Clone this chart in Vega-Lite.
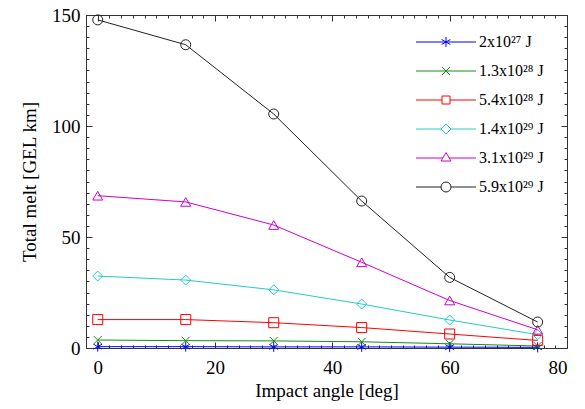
{
  "$schema": "https://vega.github.io/schema/vega-lite/v6.json",
  "width": 481,
  "height": 333,
  "autosize": {"type": "none"},
  "padding": {"left": 86, "top": 15, "right": 18, "bottom": 61},
  "background": "white",
  "config": {
    "view": {"stroke": "#333333", "strokeWidth": 1},
    "font": "Liberation Serif",
    "axis": {"labelFont": "Liberation Serif", "titleFont": "Liberation Serif", "labelColor": "black", "titleColor": "black", "titleFontWeight": "normal", "grid": false, "domain": false, "tickColor": "#333333"},
    "legend": {"labelFont": "Liberation Serif"}
  },
  "data": {
    "values": [
      {"angle": 0, "melt": 0.6, "series": "2x10²⁷ J"},
      {"angle": 15, "melt": 0.6, "series": "2x10²⁷ J"},
      {"angle": 30, "melt": 0.5, "series": "2x10²⁷ J"},
      {"angle": 45, "melt": 0.5, "series": "2x10²⁷ J"},
      {"angle": 60, "melt": 0.4, "series": "2x10²⁷ J"},
      {"angle": 75, "melt": 0.3, "series": "2x10²⁷ J"},
      {"angle": 0, "melt": 3.6, "series": "1.3x10²⁸ J"},
      {"angle": 15, "melt": 3.3, "series": "1.3x10²⁸ J"},
      {"angle": 30, "melt": 3.2, "series": "1.3x10²⁸ J"},
      {"angle": 45, "melt": 2.8, "series": "1.3x10²⁸ J"},
      {"angle": 60, "melt": 1.9, "series": "1.3x10²⁸ J"},
      {"angle": 75, "melt": 0.9, "series": "1.3x10²⁸ J"},
      {"angle": 0, "melt": 12.8, "series": "5.4x10²⁸ J"},
      {"angle": 15, "melt": 12.8, "series": "5.4x10²⁸ J"},
      {"angle": 30, "melt": 11.4, "series": "5.4x10²⁸ J"},
      {"angle": 45, "melt": 9.2, "series": "5.4x10²⁸ J"},
      {"angle": 60, "melt": 6.3, "series": "5.4x10²⁸ J"},
      {"angle": 75, "melt": 3.4, "series": "5.4x10²⁸ J"},
      {"angle": 0, "melt": 32.4, "series": "1.4x10²⁹ J"},
      {"angle": 15, "melt": 30.6, "series": "1.4x10²⁹ J"},
      {"angle": 30, "melt": 26.2, "series": "1.4x10²⁹ J"},
      {"angle": 45, "melt": 19.8, "series": "1.4x10²⁹ J"},
      {"angle": 60, "melt": 12.6, "series": "1.4x10²⁹ J"},
      {"angle": 75, "melt": 6.0, "series": "1.4x10²⁹ J"},
      {"angle": 0, "melt": 68.6, "series": "3.1x10²⁹ J"},
      {"angle": 15, "melt": 65.8, "series": "3.1x10²⁹ J"},
      {"angle": 30, "melt": 55.4, "series": "3.1x10²⁹ J"},
      {"angle": 45, "melt": 38.6, "series": "3.1x10²⁹ J"},
      {"angle": 60, "melt": 21.4, "series": "3.1x10²⁹ J"},
      {"angle": 75, "melt": 8.2, "series": "3.1x10²⁹ J"},
      {"angle": 0, "melt": 147.8, "series": "5.9x10²⁹ J"},
      {"angle": 15, "melt": 136.6, "series": "5.9x10²⁹ J"},
      {"angle": 30, "melt": 105.4, "series": "5.9x10²⁹ J"},
      {"angle": 45, "melt": 66.2, "series": "5.9x10²⁹ J"},
      {"angle": 60, "melt": 31.8, "series": "5.9x10²⁹ J"},
      {"angle": 75, "melt": 11.7, "series": "5.9x10²⁹ J"}
    ]
  },
  "resolve": {
    "scale": {"color": "independent", "shape": "independent"},
    "axis": {"x": "independent", "y": "independent"},
    "legend": {"color": "independent", "shape": "independent"}
  },
  "layer": [
    {
      "mark": {"type": "line", "strokeWidth": 1},
      "encoding": {
        "x": {"field": "angle", "type": "quantitative", "scale": {"domain": [-2, 80], "nice": false, "zero": false},
          "axis": {"orient": "bottom", "values": [0, 20, 40, 60, 80], "ticks": false, "labelPadding": 10, "labelFontSize": 19, "title": "Impact angle [deg]", "titleFontSize": 19, "titlePadding": 4}},
        "y": {"field": "melt", "type": "quantitative", "scale": {"domain": [0, 150], "nice": false, "zero": false},
          "axis": {"orient": "left", "values": [0, 50, 100, 150], "ticks": false, "labelPadding": 6, "labelFontSize": 19, "title": "Total melt [GEL km]", "titleFontSize": 19, "titlePadding": 12}},
        "color": {"field": "series", "type": "nominal", "legend": null,
          "scale": {"domain": ["2x10²⁷ J", "1.3x10²⁸ J", "5.4x10²⁸ J", "1.4x10²⁹ J", "3.1x10²⁹ J", "5.9x10²⁹ J"], "range": ["#0000ff", "#1a8a1a", "#ff0000", "#22cccc", "#cc00cc", "#222222"]}},
        "order": {"field": "angle"}
      }
    },
    {
      "mark": {"type": "point", "filled": false, "strokeWidth": 1, "size": 100, "opacity": 1},
      "encoding": {
        "x": {"field": "angle", "type": "quantitative", "axis": {"orient": "bottom", "values": [0, 20, 40, 60, 80], "labels": false, "title": null, "tickSize": -6}},
        "y": {"field": "melt", "type": "quantitative", "axis": {"orient": "left", "values": [0, 50, 100, 150], "labels": false, "title": null, "tickSize": -6}},
        "color": {"field": "series", "type": "nominal", "legend": null,
          "scale": {"domain": ["2x10²⁷ J", "1.3x10²⁸ J", "5.4x10²⁸ J", "1.4x10²⁹ J", "3.1x10²⁹ J", "5.9x10²⁹ J"], "range": ["#0000ff", "#1a8a1a", "#ff0000", "#22cccc", "#cc00cc", "#222222"]}},
        "shape": {"field": "series", "type": "nominal", "legend": null,
          "scale": {"domain": ["2x10²⁷ J", "1.3x10²⁸ J", "5.4x10²⁸ J", "1.4x10²⁹ J", "3.1x10²⁹ J", "5.9x10²⁹ J"],
            "range": ["M0,-1V1M-0.87,-0.5L0.87,0.5M-0.87,0.5L0.87,-0.5", "M-0.8,-0.8L0.8,0.8M-0.8,0.8L0.8,-0.8", "square", "diamond", "triangle-up", "circle"]}}
      }
    },
    {
      "mark": {"type": "point", "filled": false, "strokeWidth": 1, "size": 100, "opacity": 0},
      "encoding": {
        "x": {"field": "angle", "type": "quantitative", "axis": {"orient": "bottom", "values": [-2, 2, 4, 6, 8, 10, 12, 14, 16, 18, 22, 24, 26, 28, 30, 32, 34, 36, 38, 42, 44, 46, 48, 50, 52, 54, 56, 58, 62, 64, 66, 68, 70, 72, 74, 76, 78], "labels": false, "title": null, "tickSize": -3}},
        "y": {"field": "melt", "type": "quantitative", "axis": {"orient": "left", "values": [5, 10, 15, 20, 25, 30, 35, 40, 45, 55, 60, 65, 70, 75, 80, 85, 90, 95, 105, 110, 115, 120, 125, 130, 135, 140, 145], "labels": false, "title": null, "tickSize": -3}},
        "color": {"field": "series", "type": "nominal",
          "scale": {"domain": ["2x10²⁷ J", "1.3x10²⁸ J", "5.4x10²⁸ J", "1.4x10²⁹ J", "3.1x10²⁹ J", "5.9x10²⁹ J"], "range": ["#0000ff", "#1a8a1a", "#ff0000", "#22cccc", "#cc00cc", "#222222"]},
          "legend": {"orient": "none", "legendX": 352, "legendY": 19, "title": null, "padding": 0, "symbolOpacity": 1, "symbolStrokeWidth": 1, "symbolSize": 100, "labelFontSize": 16, "labelOffset": 25, "rowPadding": 13, "labelColor": "black"}},
        "shape": {"field": "series", "type": "nominal",
          "scale": {"domain": ["2x10²⁷ J", "1.3x10²⁸ J", "5.4x10²⁸ J", "1.4x10²⁹ J", "3.1x10²⁹ J", "5.9x10²⁹ J"],
            "range": ["M-6,0H6M0,-1V1M-0.87,-0.5L0.87,0.5M-0.87,0.5L0.87,-0.5", "M-6,0H6M-0.8,-0.8L0.8,0.8M-0.8,0.8L0.8,-0.8", "M-6,0H-0.8M0.8,0H6M-0.8,-0.8H0.8V0.8H-0.8Z", "M-6,0H-1M1,0H6M-1,0L0,-1L1,0L0,1Z", "M-6,0H-0.65M0.65,0H6M-1,0.6L0,-1.1L1,0.6Z", "M-6,0H-1M1,0H6M-1,0A1,1 0 1,0 1,0A1,1 0 1,0 -1,0"]},
          "legend": {"orient": "none", "legendX": 352, "legendY": 19, "title": null, "padding": 0, "symbolOpacity": 1, "symbolStrokeWidth": 1, "symbolSize": 100, "labelFontSize": 16, "labelOffset": 25, "rowPadding": 13, "labelColor": "black"}}
      }
    },
    {
      "mark": {"type": "point", "opacity": 0},
      "encoding": {
        "x": {"field": "angle", "type": "quantitative", "axis": {"orient": "top", "values": [0, 20, 40, 60, 80], "labels": false, "title": null, "tickSize": -6}},
        "y": {"field": "melt", "type": "quantitative", "axis": {"orient": "right", "values": [0, 50, 100, 150], "labels": false, "title": null, "tickSize": -6}}
      }
    },
    {
      "mark": {"type": "point", "opacity": 0},
      "encoding": {
        "x": {"field": "angle", "type": "quantitative", "axis": {"orient": "top", "values": [-2, 2, 4, 6, 8, 10, 12, 14, 16, 18, 22, 24, 26, 28, 30, 32, 34, 36, 38, 42, 44, 46, 48, 50, 52, 54, 56, 58, 62, 64, 66, 68, 70, 72, 74, 76, 78], "labels": false, "title": null, "tickSize": -3}},
        "y": {"field": "melt", "type": "quantitative", "axis": {"orient": "right", "values": [5, 10, 15, 20, 25, 30, 35, 40, 45, 55, 60, 65, 70, 75, 80, 85, 90, 95, 105, 110, 115, 120, 125, 130, 135, 140, 145], "labels": false, "title": null, "tickSize": -3}}
      }
    }
  ]
}
